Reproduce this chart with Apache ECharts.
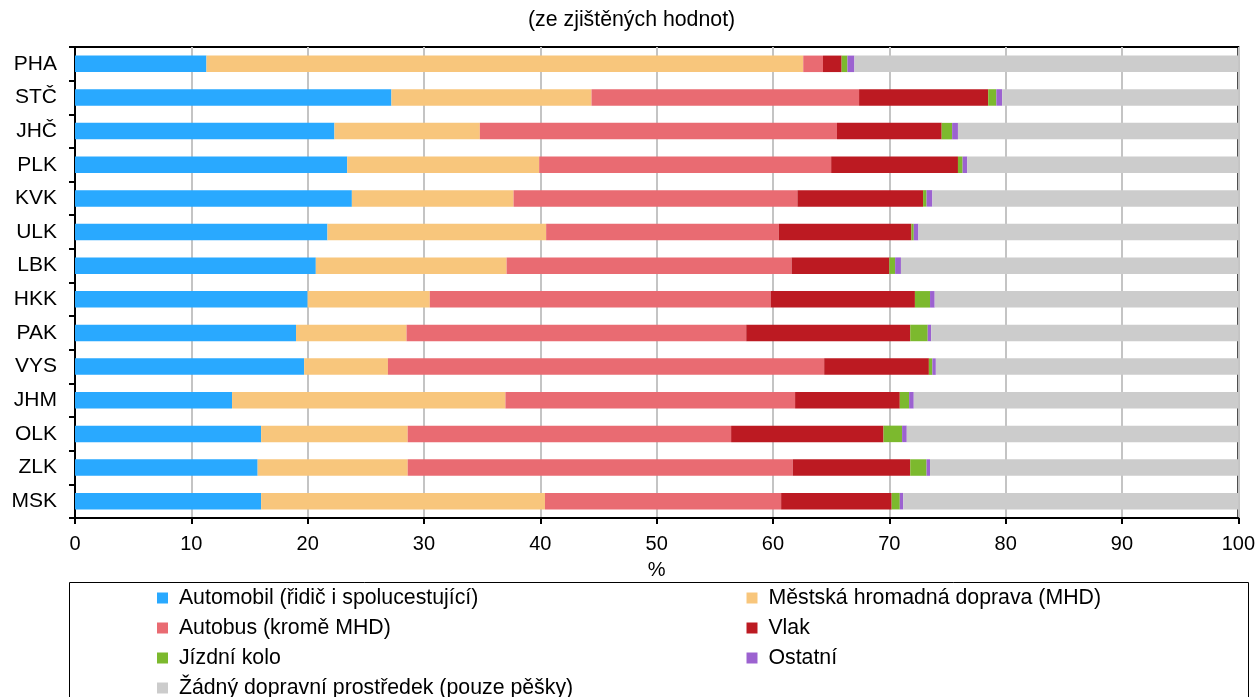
<!DOCTYPE html>
<html>
<head>
<meta charset="utf-8">
<script src="https://cdn.jsdelivr.net/npm/echarts@6/dist/echarts.min.js"></script>
<style>
html,body{margin:0;padding:0;background:#fff;}
#main{width:1258px;height:697px;}
</style>
</head>
<body>
<div id="main"></div>
<script>
var categories = ['PHA','STČ','JHČ','PLK','KVK','ULK','LBK','HKK','PAK','VYS','JHM','OLK','ZLK','MSK'];
var xTicks = [0,10,20,30,40,50,60,70,80,90,100];
var seriesNames = [
  'Automobil (řidič i spolucestující)',
  'Městská hromadná doprava (MHD)',
  'Autobus (kromě MHD)',
  'Vlak',
  'Jízdní kolo',
  'Ostatní',
  'Žádný dopravní prostředek (pouze pěšky)'
];
var automobil = [11.3,27.2,22.3,23.4,23.8,21.7,20.7,20.0,19.0,19.7,13.5,16.0,15.7,16.0];
var mhd       = [51.3,17.2,12.5,16.5,13.9,18.8,16.4,10.5, 9.5, 7.2,23.5,12.6,12.9,24.4];
var autobus   = [ 1.7,23.0,30.7,25.1,24.4,20.0,24.5,29.3,29.2,37.5,24.9,27.8,33.1,20.3];
var vlak      = [ 1.6,11.1, 9.0,10.9,10.8,11.4, 8.4,12.4,14.1, 9.0, 9.0,13.1,10.1, 9.5];
var kolo      = [ 0.5, 0.7, 0.9, 0.4, 0.3, 0.2, 0.5, 1.3, 1.5, 0.3, 0.8, 1.6, 1.4, 0.7];
var ostatni   = [ 0.6, 0.5, 0.5, 0.4, 0.5, 0.4, 0.5, 0.4, 0.3, 0.3, 0.4, 0.4, 0.3, 0.3];
var zadny     = [33.0,20.3,24.1,23.3,26.3,27.5,29.0,26.1,26.4,26.0,27.9,28.5,26.5,28.8];
var colors = ['#29a9ff','#f8c67c','#e96b72','#bc1a22','#7cb92e','#9c62d0','#cccccc'];
var values = [automobil, mhd, autobus, vlak, kolo, ostatni, zadny];

var FONT = '"Liberation Sans", Arial, sans-serif';
var chart = echarts.init(document.getElementById('main'), null, {renderer:'canvas'});

var series = seriesNames.map(function(n, i){
  return {
    name: n, type: 'bar', stack: 'total', data: values[i],
    barWidth: 16.5,
    itemStyle: {color: colors[i]},
    emphasis: {disabled: true},
    animation: false
  };
});

var legendCommon = {
  orient: 'vertical', top: 587.5, padding: 0, height: 200, width: 520,
  itemWidth: 11, itemHeight: 11, itemGap: 9,
  icon: 'rect', selectedMode: false,
  formatter: function(n){ return ' ' + n; },
  textStyle: {fontFamily: FONT, fontSize: 21.3, color: '#000', lineHeight: 21}
};

chart.setOption({
  backgroundColor: '#fff',
  animation: false,
  title: {
    text: '(ze zjištěných hodnot)', left: 528, top: 10, padding: 0,
    textStyle: {fontFamily: FONT, fontSize: 21.3, fontWeight: 'normal', color: '#000'}
  },
  legend: [
    Object.assign({}, legendCommon, {left: 157, data: [seriesNames[0], seriesNames[2], seriesNames[4], seriesNames[6]]}),
    Object.assign({}, legendCommon, {left: 746.5, data: [seriesNames[1], seriesNames[3], seriesNames[5]]})
  ],
  graphic: [{
    type: 'rect', shape: {x: 69.5, y: 582.5, width: 1179, height: 140},
    style: {fill: 'none', stroke: '#000', lineWidth: 1}, z: -1, silent: true
  }],
  grid: {
    left: 75, right: 18, top: 47, height: 471,
    show: true, borderColor: '#000', borderWidth: 2, backgroundColor: 'transparent'
  },
  xAxis: {
    type: 'value', min: xTicks[0], max: xTicks[xTicks.length-1], interval: 10,
    name: '%', nameLocation: 'middle', nameGap: 42,
    nameTextStyle: {fontFamily: FONT, fontSize: 20, color: '#000'},
    axisLine: {show: true, lineStyle: {color: '#000', width: 2}},
    axisTick: {show: true, length: 6, lineStyle: {color: '#000', width: 2}},
    axisLabel: {fontFamily: FONT, fontSize: 20, color: '#000', margin: 16},
    splitLine: {show: true, lineStyle: {color: '#c4c4c4', width: 2}}
  },
  yAxis: {
    type: 'category', data: categories, inverse: true,
    axisLine: {show: true, lineStyle: {color: '#000', width: 2}},
    axisTick: {show: true, length: 6, lineStyle: {color: '#000', width: 2}},
    axisLabel: {fontFamily: FONT, fontSize: 21, color: '#000', margin: 18},
    splitLine: {show: false}
  },
  series: series
});
</script>
</body>
</html>
